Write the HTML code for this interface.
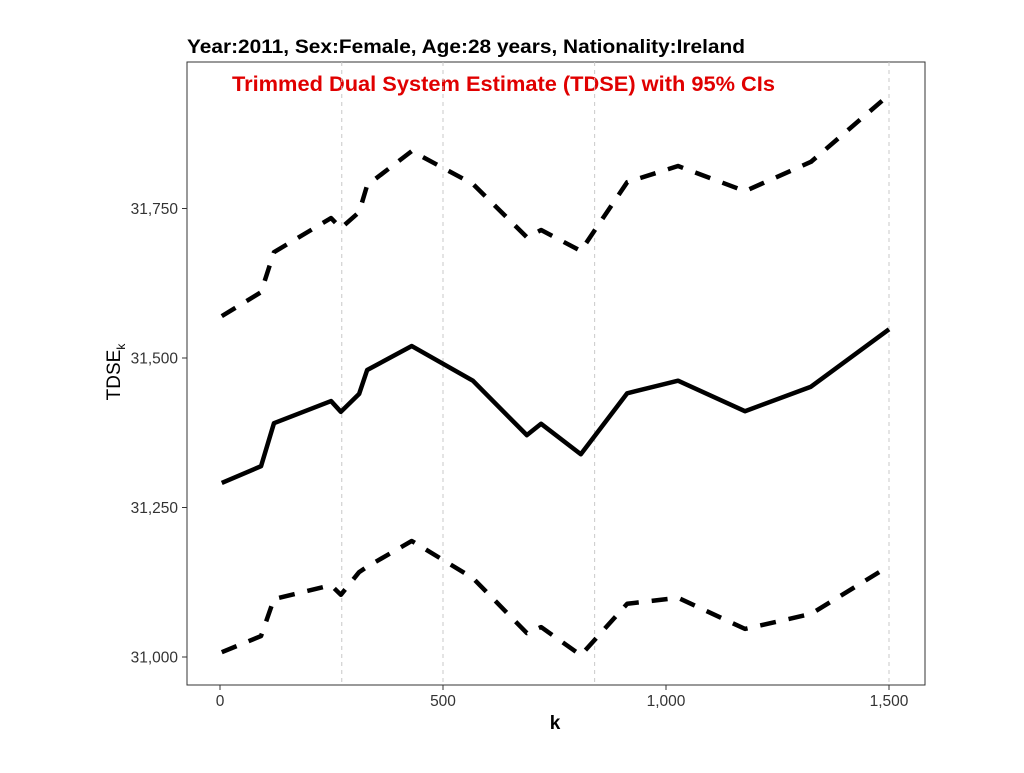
<!DOCTYPE html>
<html><head><meta charset="utf-8"><style>
body{margin:0;background:#fff;}
svg text{font-family:"Liberation Sans",sans-serif;}
</style></head><body>
<svg id="chart" width="1024" height="768" viewBox="0 0 1024 768" xmlns="http://www.w3.org/2000/svg">
<rect width="1024" height="768" fill="#fff"/>
<text x="187" y="53" font-size="19" font-weight="bold" fill="#000" textLength="558" lengthAdjust="spacingAndGlyphs">Year:2011, Sex:Female, Age:28 years, Nationality:Ireland</text>
<rect x="187" y="62" width="738" height="623" fill="none" stroke="#333" stroke-width="1"/>
<text x="232" y="91" font-size="21" font-weight="bold" fill="#e00000" textLength="543" lengthAdjust="spacingAndGlyphs">Trimmed Dual System Estimate (TDSE) with 95% CIs</text>
<g id="grid"></g><g id="axes"></g><g id="series"></g>
<text x="555" y="729" font-size="19" font-weight="bold" text-anchor="middle">k</text>
<text transform="translate(120,372) rotate(-90)" font-size="19" text-anchor="middle">TDSE<tspan font-size="12" dy="5">k</tspan></text>
</svg>
<script>
const ks=[4,92,121,249,271,312,330,430,567,688,720,809,913,1027,1177,1325,1500];
const estimate=[31291,31319,31391,31428,31410,31440,31480,31520,31462,31371,31390,31339,31441,31462,31411,31452,31548];
const upperCI=[31570,31610,31677,31734,31717,31744,31789,31846,31791,31702,31714,31679,31794,31821,31779,31828,31940];
const lowerCI=[31008,31035,31097,31120,31104,31142,31151,31194,31132,31040,31050,31003,31089,31099,31047,31072,31152];
const xTicks=[0,500,1000,1500];
const xTickLabels=["0","500","1,000","1,500"];
const yTicks=[31000,31250,31500,31750];
const yTickLabels=["31,000","31,250","31,500","31,750"];
const refLines=[273,500,840,1500];
const NS="http://www.w3.org/2000/svg";
const xs=k=>220+k*0.446;
const ys=v=>657-(v-31000)*0.598;
function mk(tag,attrs,parent){const e=document.createElementNS(NS,tag);for(const a in attrs)e.setAttribute(a,attrs[a]);parent.appendChild(e);return e;}
const grid=document.getElementById('grid'),axes=document.getElementById('axes'),ser=document.getElementById('series');
refLines.forEach(k=>{const l=mk('line',{x1:xs(k),x2:xs(k),y1:62,y2:685,stroke:'#c8c8c8','stroke-width':1,'stroke-dasharray':'4,4'},grid);

});
xTicks.forEach((t,i)=>{mk('line',{x1:xs(t),x2:xs(t),y1:685,y2:690,stroke:'#333'},axes);
const tx=mk('text',{x:xs(t),y:706,'font-size':15.5,'text-anchor':'middle',fill:'#333'},axes);tx.textContent=xTickLabels[i];

});
yTicks.forEach((t,i)=>{mk('line',{x1:182,x2:187,y1:ys(t),y2:ys(t),stroke:'#333'},axes);
const tx=mk('text',{x:178,y:ys(t)+5.5,'font-size':15.5,'text-anchor':'end',fill:'#333'},axes);tx.textContent=yTickLabels[i];

});
function line(vals,dash,name){const p=mk('polyline',{points:ks.map((k,i)=>xs(k)+','+ys(vals[i])).join(' '),fill:'none',stroke:'#000','stroke-width':4.5,'stroke-linejoin':'round'},ser);
if(dash)p.setAttribute('stroke-dasharray','16,13');

}
line(upperCI,true,'upper-ci-line');
line(estimate,false,'estimate-line');
line(lowerCI,true,'lower-ci-line');
</script>
</body></html>
